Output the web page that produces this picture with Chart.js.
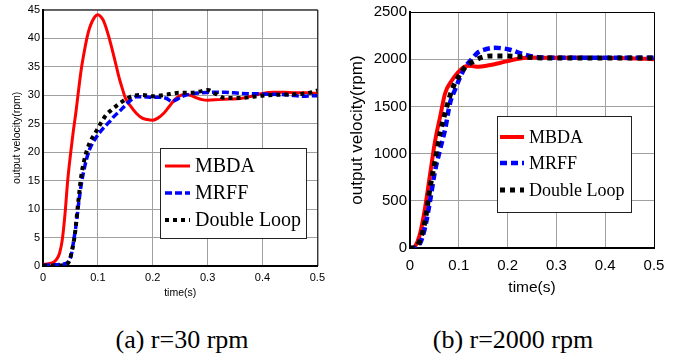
<!DOCTYPE html>
<html>
<head>
<meta charset="utf-8">
<script src="https://cdn.jsdelivr.net/npm/chart.js@4/dist/chart.umd.min.js"></script>
<style>
  html, body { margin: 0; padding: 0; background: #fff; }
  body { width: 677px; height: 358px; position: relative; overflow: hidden; }
  .wrap { position: absolute; top: 0; height: 300px; }
  #wa { left: 0; width: 330px; }
  #wb { left: 340px; width: 337px; }
  .cap { position: absolute; top: 327px; font-family: "Liberation Serif", "Times New Roman", serif;
         font-size: 26px; line-height: 26px; color: #000; white-space: nowrap; transform: translateX(-50%); }
</style>
</head>
<body>
<div class="wrap" id="wa"><canvas id="ca" width="330" height="300"></canvas></div>
<div class="wrap" id="wb"><canvas id="cb" width="337" height="300"></canvas></div>
<div class="cap" style="left:182px">(a) r=30 rpm</div>
<div class="cap" style="left:513px">(b) r=2000 rpm</div>
<script>
// ---------- data: (a) r = 30 rpm ----------
const seriesNames = ['MBDA', 'MRFF', 'Double Loop'];
const xTicks = [0, 0.1, 0.2, 0.3, 0.4, 0.5];
const yTicksA = [0, 5, 10, 15, 20, 25, 30, 35, 40, 45];
const yTicksB = [0, 500, 1000, 1500, 2000, 2500];

const tA_MBDA = [0, 0.01, 0.02, 0.025, 0.03, 0.035, 0.04, 0.045, 0.05, 0.055, 0.06, 0.065, 0.07, 0.075, 0.08, 0.085, 0.09, 0.095, 0.1, 0.105, 0.11, 0.115, 0.12, 0.125, 0.13, 0.135, 0.14, 0.145, 0.15, 0.16, 0.17, 0.18, 0.19, 0.2, 0.21, 0.22, 0.23, 0.24, 0.25, 0.26, 0.27, 0.28, 0.29, 0.3, 0.32, 0.34, 0.36, 0.38, 0.4, 0.42, 0.44, 0.46, 0.48, 0.5];
const vA_MBDA = [0.3, 0.4, 0.7, 1.2, 2.2, 4.5, 9, 15, 19.5, 23.5, 27, 31, 34.7, 37.5, 40, 41.8, 43, 43.8, 44.1, 43.8, 43.1, 41.8, 40.2, 38.4, 36.5, 34.5, 32.6, 31, 29.5, 28, 26.8, 26, 25.7, 25.6, 26, 26.8, 28, 29.2, 29.9, 30.1, 29.9, 29.5, 29.2, 29.1, 29.2, 29.3, 29.4, 29.8, 30.3, 30.5, 30.5, 30.4, 30.4, 30.3];

const tA_MRFF = [0, 0.02, 0.04, 0.048, 0.052, 0.056, 0.06, 0.065, 0.07, 0.075, 0.08, 0.085, 0.09, 0.1, 0.11, 0.12, 0.13, 0.14, 0.15, 0.16, 0.17, 0.18, 0.2, 0.215, 0.225, 0.235, 0.245, 0.255, 0.27, 0.29, 0.31, 0.33, 0.36, 0.4, 0.45, 0.47, 0.5];
const vA_MRFF = [0.1, 0.2, 0.4, 1, 2.2, 4.5, 7, 11, 14.5, 17, 19, 20.5, 21.5, 23, 24.2, 25.2, 26.3, 27.2, 28.2, 29.1, 29.7, 29.7, 29.6, 29.6, 29.4, 28.9, 29.3, 29.8, 30.2, 30.4, 30.5, 30.5, 30.3, 30.2, 30, 29.8, 29.9];

const tA_DL = [0, 0.02, 0.04, 0.0485, 0.053, 0.058, 0.064, 0.07, 0.075, 0.08, 0.087, 0.095, 0.105, 0.115, 0.125, 0.135, 0.145, 0.155, 0.165, 0.18, 0.2, 0.22, 0.25, 0.27, 0.285, 0.3, 0.315, 0.33, 0.36, 0.4, 0.44, 0.47, 0.49, 0.5];
const vA_DL = [0.1, 0.1, 0.2, 1, 2.8, 5.5, 11, 16, 18.5, 20.3, 22, 23.3, 25, 26.5, 27.4, 28.2, 28.9, 29.5, 29.9, 30, 29.8, 30, 30.4, 30.4, 30.6, 30.9, 30.2, 29.5, 29.5, 29.9, 30.1, 30.2, 30.5, 30.8];

// ---------- data: (b) r = 2000 rpm ----------
const tB_MBDA = [0, 0.005, 0.01, 0.0205, 0.031, 0.041, 0.051, 0.062, 0.072, 0.086, 0.099, 0.11, 0.12, 0.13, 0.14, 0.161, 0.184, 0.209, 0.23, 0.246, 0.3, 0.35, 0.4, 0.45, 0.5];
const vB_MBDA = [0, 0, 14, 152, 429, 775, 1120, 1397, 1639, 1777, 1864, 1916, 1930, 1925, 1920, 1935, 1960, 1992, 2010, 2018, 2015, 2015, 2012, 2010, 2000];

const tB_MRFF = [0, 0.01, 0.0205, 0.031, 0.041, 0.051, 0.062, 0.072, 0.082, 0.092, 0.103, 0.113, 0.127, 0.14, 0.155, 0.174, 0.19, 0.205, 0.232, 0.26, 0.3, 0.35, 0.4, 0.45, 0.5];
const vB_MRFF = [0, 0, 48, 221, 498, 809, 1051, 1259, 1535, 1674, 1812, 1916, 2002, 2075, 2105, 2120, 2115, 2100, 2054, 2022, 2015, 2015, 2015, 2015, 2015];

const tB_DL = [0, 0.01, 0.0205, 0.031, 0.041, 0.051, 0.062, 0.072, 0.086, 0.099, 0.113, 0.127, 0.147, 0.168, 0.195, 0.225, 0.26, 0.3, 0.35, 0.4, 0.45, 0.5];
const vB_DL = [0, 0, 83, 290, 636, 913, 1224, 1432, 1674, 1812, 1916, 1968, 2020, 2035, 2035, 2025, 2015, 2012, 2012, 2012, 2012, 2012];

// ---------- helpers ----------
const SANS = '"Liberation Sans", Arial, sans-serif';
const SERIF = '"Liberation Serif", "Times New Roman", serif';
const pts = (t, v) => t.map((x, i) => ({ x, y: v[i] }));
const fmtX = v => (v === 0 ? '0' : Number(v).toFixed(1));
const fmtY = v => String(v);

const framePlugin = {
  id: 'frameLegend',
  afterDraw(chart, args, opts) {
    const { ctx, chartArea: a } = chart;
    ctx.save();
    ctx.strokeStyle = '#000';
    ctx.lineWidth = 1;
    ctx.beginPath();
    ctx.moveTo(a.left, a.top + 0.5);
    ctx.lineTo(a.right + 0.5, a.top + 0.5);
    ctx.lineTo(a.right + 0.5, a.bottom);
    ctx.stroke();
    const L = opts.legend;
    if (L) {
      ctx.fillStyle = '#fff';
      ctx.fillRect(L.x, L.y, L.w, L.h);
      ctx.strokeStyle = '#222';
      ctx.lineWidth = 1;
      ctx.strokeRect(L.x + 0.5, L.y + 0.5, L.w, L.h);
      chart.data.datasets.slice().sort((p, q) => p.legendIndex - q.legendIndex).forEach((ds, i) => {
        const yy = L.rows[i];
        ctx.save();
        ctx.strokeStyle = ds.borderColor;
        ctx.lineWidth = ds.borderWidth;
        ctx.setLineDash(ds.borderDash || []);
        ctx.beginPath();
        ctx.moveTo(L.lx1, yy);
        ctx.lineTo(L.lx2, yy);
        ctx.stroke();
        ctx.restore();
        ctx.fillStyle = '#000';
        ctx.font = L.fontSize + 'px ' + SERIF;
        ctx.textBaseline = 'middle';
        ctx.textAlign = 'left';
        ctx.fillText(ds.label, L.tx, yy + 1);
      });
    }
    ctx.restore();
  }
};

function makeChart(id, cfg) {
  return new Chart(document.getElementById(id), {
    type: 'line',
    data: {
      datasets: [
        { label: seriesNames[0], legendIndex: 0, data: pts(cfg.t[0], cfg.v[0]), borderColor: '#ff0000',
          borderWidth: cfg.w[0], order: 3 },
        { label: seriesNames[1], legendIndex: 1, data: pts(cfg.t[1], cfg.v[1]), borderColor: '#0000ff',
          borderWidth: cfg.w[1], borderDash: cfg.dash[1], order: 2 },
        { label: seriesNames[2], legendIndex: 2, data: pts(cfg.t[2], cfg.v[2]), borderColor: '#000000',
          borderWidth: cfg.w[2], borderDash: cfg.dash[2], order: 1 }
      ].map(d => Object.assign(d, { pointRadius: 0, fill: false, cubicInterpolationMode: 'monotone', borderCapStyle: 'butt' }))
    },
    options: {
      responsive: false,
      animation: false,
      devicePixelRatio: 1,
      layout: { autoPadding: false, padding: { top: 7, right: cfg.padRight, left: 0, bottom: 0 } },
      plugins: { legend: { display: false }, tooltip: { enabled: false }, frameLegend: { legend: cfg.legend } },
      scales: {
        x: {
          type: 'linear', min: 0, max: 0.5,
          afterBuildTicks: s => { s.ticks = xTicks.map(v => ({ value: v })); },
          ticks: { callback: fmtX, color: '#000', font: { family: SANS, size: cfg.tickSize }, padding: cfg.xTickPad, maxRotation: 0, autoSkip: false },
          grid: { color: '#a0a0a0', lineWidth: 1, drawTicks: false },
          border: { color: '#000', width: 2 },
          title: { display: true, text: 'time(s)', color: '#000', font: { family: SANS, size: cfg.titleSize }, padding: { top: 0, bottom: cfg.xTitlePad } },
          afterFit: s => { s.height = cfg.xH; }
        },
        y: {
          type: 'linear', min: 0, max: cfg.yMax,
          afterBuildTicks: s => { s.ticks = cfg.yTicks.map(v => ({ value: v })); },
          ticks: { callback: fmtY, color: '#000', font: { family: SANS, size: cfg.tickSize }, padding: 3, autoSkip: false },
          grid: { color: '#a0a0a0', lineWidth: 1, drawTicks: false },
          border: { color: '#000', width: 2 },
          title: { display: true, text: 'output velocity(rpm)', color: '#000', font: { family: SANS, size: cfg.yTitleSize }, padding: { top: cfg.yTitlePad, bottom: 0 } },
          afterFit: s => { s.width = cfg.yW; }
        }
      }
    },
    plugins: [framePlugin]
  });
}

makeChart('ca', {
  t: [tA_MBDA, tA_MRFF, tA_DL], v: [vA_MBDA, vA_MRFF, vA_DL],
  w: [3, 3.5, 4], dash: [null, [7, 3], [4, 4]],
  yMax: 45, yTicks: yTicksA, padRight: 12, yW: 43, xH: 34,
  tickSize: 11, titleSize: 10.5, yTitleSize: 10.5, xTickPad: 5, xTitlePad: 1, yTitlePad: 11,
  legend: { x: 160, y: 148, w: 146, h: 90, rows: [166, 193, 220], lx1: 165, lx2: 190, tx: 195, fontSize: 20 }
});

makeChart('cb', {
  t: [tB_MBDA, tB_MRFF, tB_DL], v: [vB_MBDA, vB_MRFF, vB_DL],
  w: [4, 4.5, 5], dash: [null, [7, 4], [5, 5]],
  yMax: 2500, yTicks: yTicksB, padRight: 23, yW: 70, xH: 52,
  tickSize: 15, titleSize: 15.5, yTitleSize: 17, xTickPad: 9, xTitlePad: 2.5, yTitlePad: 7,
  legend: { x: 157, y: 116, w: 134, h: 96, rows: [137, 163, 190], lx1: 160, lx2: 184, tx: 189, fontSize: 18 }
});
</script>
</body>
</html>
